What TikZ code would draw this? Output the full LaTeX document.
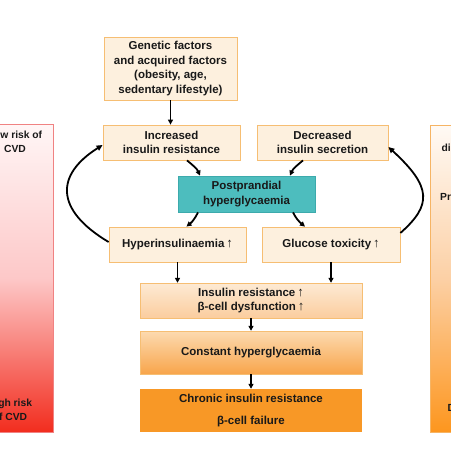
\documentclass[tikz,border=0pt]{standalone}
\usepackage{fontspec}
\setmainfont{Liberation Sans}
\usetikzlibrary{arrows.meta}
\definecolor{boxfill}{RGB}{253,240,222}
\definecolor{boxline}{RGB}{246,190,115}
\definecolor{tealfill}{RGB}{77,189,190}
\definecolor{tealline}{RGB}{60,170,172}
\definecolor{irtop}{RGB}{253,234,212}
\definecolor{irbot}{RGB}{251,205,158}
\definecolor{cotop}{RGB}{252,218,176}
\definecolor{cobot}{RGB}{248,165,75}
\definecolor{chfill}{RGB}{248,152,38}
\definecolor{redtop}{RGB}{255,246,246}
\definecolor{redmid}{RGB}{253,200,200}
\definecolor{redbot}{RGB}{242,45,30}
\definecolor{redline}{RGB}{240,130,130}
\definecolor{ortop}{RGB}{255,250,245}
\definecolor{ormid}{RGB}{252,208,165}
\definecolor{orbot}{RGB}{253,150,30}
\definecolor{orline}{RGB}{246,180,100}
\newcommand{\upar}{\,{\mdseries\fontsize{13}{14}\selectfont ↑}}
\tikzset{
  txt/.style={font=\fontsize{11.5}{14.5}\selectfont\bfseries, text=black!90, align=center, inner sep=0pt},
  cbox/.style={txt, draw=boxline, fill=boxfill, line width=0.8pt},
  tbox/.style={txt, draw=tealline, fill=tealfill, line width=0.8pt},
  bartxt/.style={font=\fontsize{10.3}{14}\selectfont\bfseries, text=black!90, align=center, inner sep=0pt},
  arr/.style={line width=1.8pt, -{Triangle[length=5pt,width=5pt]}},
  loop/.style={line width=1.8pt, -{Triangle[length=6pt,width=5.5pt]}}
}
\begin{document}
\begin{tikzpicture}[x=1pt,y=-1pt]
\useasboundingbox (0,0) rectangle (451,451);
\begin{scope}
\clip (0,0) rectangle (451,451);
% left bar
\shade[top color=redtop, bottom color=redbot, middle color=redmid] (-40,124) rectangle (53,432);
\draw[redline, line width=0.8pt] (-40,124) rectangle (53,432);
\node[bartxt] (lowrisk) at (15,142) {Low risk of\\CVD};
\node[bartxt] (highrisk) at (10,410) {High risk\\of CVD};
% right bar
\shade[top color=ortop, bottom color=orbot, middle color=ormid] (430,125) rectangle (500,432);
\draw[orline, line width=0.8pt] (430,125) rectangle (500,432);
\node[bartxt, anchor=west] (rdi) at (441.5,148) {di};
\node[bartxt, anchor=west] (rpr) at (440,197) {Pr};
\node[bartxt, anchor=west] (rbot) at (447.5,408) {D};
\end{scope}
% boxes
\node[cbox, minimum width=133pt, minimum height=63pt] (gen) at (170.5,68.5) {Genetic factors\\and acquired factors\\(obesity, age,\\sedentary lifestyle)};
\node[cbox, minimum width=137pt, minimum height=35pt] (inc) at (171.5,142.5) {Increased\\insulin resistance};
\node[cbox, minimum width=131pt, minimum height=35pt] (dec) at (322.5,142.5) {Decreased\\insulin secretion};
\node[tbox, minimum width=137pt, minimum height=36pt] (post) at (246.5,194) {Postprandial\\hyperglycaemia};
\node[cbox, minimum width=137pt, minimum height=35pt] (hyp) at (177.5,244.5) {Hyperinsulinaemia\upar};
\node[cbox, minimum width=138pt, minimum height=35pt] (glu) at (331,244.5) {Glucose toxicity\upar};
\shade[top color=irtop, bottom color=irbot] (140,283) rectangle (362,318);
\draw[boxline, line width=0.8pt] (140,283) rectangle (362,318);
\node[txt, minimum width=222pt, minimum height=35pt] (ir) at (251,300.5) {Insulin resistance\upar\\β-cell dysfunction\upar};
\shade[top color=cotop, bottom color=cobot] (140,331) rectangle (362,374);
\draw[boxline, line width=0.8pt] (140,331) rectangle (362,374);
\node[txt, minimum width=222pt, minimum height=43pt] (con) at (251,352.5) {Constant hyperglycaemia};
\node[txt, fill=chfill, minimum width=222pt, minimum height=43pt, font=\fontsize{11.5}{22}\selectfont\bfseries] (chr) at (251,410.5) {Chronic insulin resistance\\β-cell failure};
% arrows
\draw[arr] (gen.south) -- (gen.south |- inc.north);
\draw[arr] ([xshift=15.5pt]inc.south) .. controls +(6,5) and +(-3,-7) .. ([xshift=-46.5pt]post.north);
\draw[arr] ([xshift=-19.5pt]dec.south) .. controls +(-6,5) and +(3,-7) .. ([xshift=43.5pt]post.north);
\draw[arr] ([xshift=-48.5pt]post.south) .. controls +(-3,6) and +(6,-5) .. ([xshift=9pt]hyp.north);
\draw[arr] ([xshift=46.5pt]post.south) .. controls +(3,6) and +(-6,-5) .. ([xshift=-26pt]glu.north);
\draw[loop] ([yshift=2.5pt]hyp.west) .. controls (55,210) and (55,175) .. ([yshift=-2.5pt]inc.west);
\draw[loop] ([yshift=11.5pt]glu.east) .. controls (432,205) and (432,187) .. ([yshift=-4.5pt]dec.east);
\draw[arr] (hyp.south) -- (hyp.south |- ir.north);
\draw[arr] (glu.south) -- (glu.south |- ir.north);
\draw[arr] (ir.south) -- (ir.south |- con.north);
\draw[arr] (con.south) -- (con.south |- chr.north);
\end{tikzpicture}
\end{document}
